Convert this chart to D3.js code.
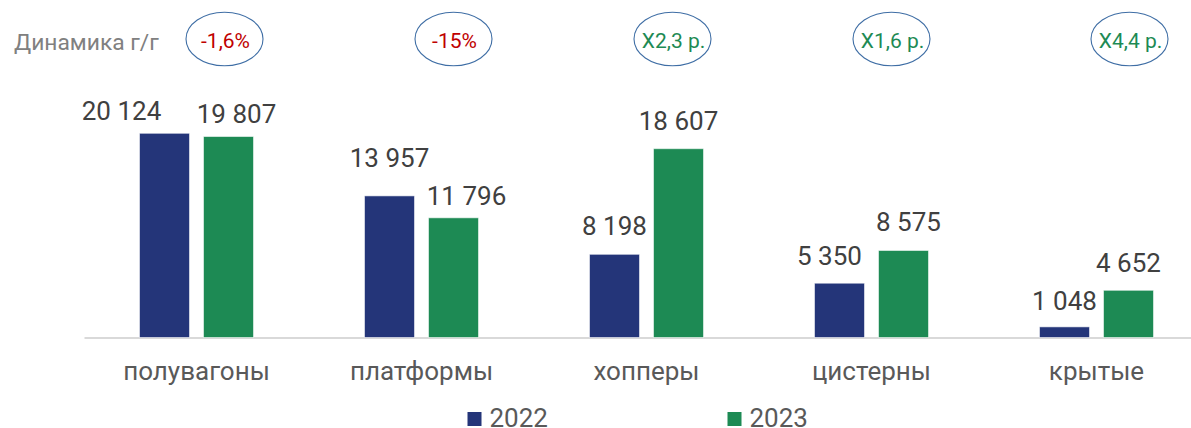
<!DOCTYPE html>
<html>
<head>
<meta charset="utf-8">
<script src="https://cdn.jsdelivr.net/npm/d3@7"></script>
<style>
  body { margin: 0; background: #fff; }
  svg { display: block; font-family: Roboto, "Noto Sans", sans-serif; }
</style>
</head>
<body>
<div id="chart"></div>
<script>
// data
const categories = ["полувагоны", "платформы", "хопперы", "цистерны", "крытые"];
const series = ["2022", "2023"];
const values2022 = [20124, 13957, 8198, 5350, 1048];
const values2023 = [19807, 11796, 18607, 8575, 4652];
const dynamics = ["-1,6%", "-15%", "X2,3 р.", "X1,6 р.", "X4,4 р."];

// manual nudges of the value labels, as in the source chart [dx, dy]
const labelNudge2022 = [[-43, 5], [0, -11], [0, -1], [-10, 0], [0, 1]];
const labelNudge2023 = [[8, 4], [13, 5], [0, -1], [5, -1], [0, 0]];
// ellipse offsets from category centre
const bubbleNudge = [28, 32, 26, 20, 33];

const width = 1191, height = 428;
const baseline = 337.5;
const colors = { "2022": "#243579", "2023": "#1d8a54" };

const svg = d3.select("#chart").append("svg")
    .attr("width", width)
    .attr("height", height);

let x = d3.scaleBand()
    .domain(categories)
    .range([84, 1209])
    .paddingInner(0)
    .paddingOuter(0);

let x1 = d3.scaleBand()
    .domain(series)
    .range([-57, 57])
    .paddingInner(0.21875);

let y = d3.scaleLinear()
    .domain([0, 25000])
    .range([baseline, baseline - 25000 * 0.010147]);

let rows = categories.map((c, i) => ({
    cat: c,
    i: i,
    vals: [
        { s: "2022", v: values2022[i], nudge: labelNudge2022[i] },
        { s: "2023", v: values2023[i], nudge: labelNudge2023[i] }
    ]
}));

//axis
let axis = svg.append("g")
    .attr("transform", "translate(0," + baseline + ")")
    .call(d3.axisBottom(x).tickSize(0));

axis.select(".domain")
    .attr("stroke", "#d9d9d9")
    .attr("stroke-width", 2);

axis.selectAll("text")
    .attr("dy", null)
    .attr("y", 42.5)
    .attr("fill", "#595959")
    .style("font-size", "26px")
    .style("font-family", "Roboto, sans-serif");

//bars
let groups = svg.append("g")
    .selectAll("g")
    .data(rows)
    .enter()
    .append("g")
    .attr("transform", d => "translate(" + (x(d.cat) + x.bandwidth() / 2) + ",0)");

groups.selectAll("rect")
    .data(d => d.vals)
    .enter()
    .append("rect")
    .attr("x", d => x1(d.s))
    .attr("width", x1.bandwidth())
    .attr("y", d => y(d.v))
    .attr("height", d => baseline - y(d.v))
    .attr("fill", d => colors[d.s])
    .attr("stroke", "#ffffff")
    .attr("stroke-opacity", 0.55)
    .attr("stroke-width", 1);

//value labels
const fmt = v => d3.format(",")(v).replace(/,/g, " ");

groups.selectAll("text.val")
    .data(d => d.vals)
    .enter()
    .append("text")
    .attr("class", "val")
    .attr("x", d => x1(d.s) + x1.bandwidth() / 2 + d.nudge[0])
    .attr("y", d => y(d.v) - 18 + d.nudge[1])
    .attr("text-anchor", "middle")
    .attr("fill", "#404040")
    .style("font-size", "26px")
    .text(d => fmt(d.v));

//dynamics header
svg.append("text")
    .attr("x", 14)
    .attr("y", 50)
    .attr("fill", "#808080")
    .style("font-size", "22.8px")
    .text("Динамика г/г");

let bubbles = svg.append("g")
    .selectAll("g")
    .data(rows)
    .enter()
    .append("g")
    .attr("transform", d => "translate(" + (x(d.cat) + x.bandwidth() / 2 + bubbleNudge[d.i]) + ",39)");

bubbles.append("ellipse")
    .attr("rx", 38.5)
    .attr("ry", 26.8)
    .attr("fill", "none")
    .attr("stroke", "#3f6ea5")
    .attr("stroke-width", 1.1);

bubbles.append("text")
    .attr("y", 9)
    .attr("x", 1)
    .attr("text-anchor", "middle")
    .attr("fill", d => dynamics[d.i].startsWith("-") ? "#c00000" : "#1d8a54")
    .style("font-size", "21px")
    .text(d => dynamics[d.i]);

//legend
let legend = svg.append("g")
    .selectAll("g")
    .data(series)
    .enter()
    .append("g")
    .attr("transform", (d, i) => "translate(" + (467.5 + i * 260) + ",412)");

legend.append("rect")
    .attr("width", 14)
    .attr("height", 14)
    .attr("fill", d => colors[d]);

legend.append("text")
    .attr("x", 22)
    .attr("y", 14.5)
    .attr("fill", "#595959")
    .style("font-size", "26px")
    .text(d => d);
</script>
</body>
</html>
